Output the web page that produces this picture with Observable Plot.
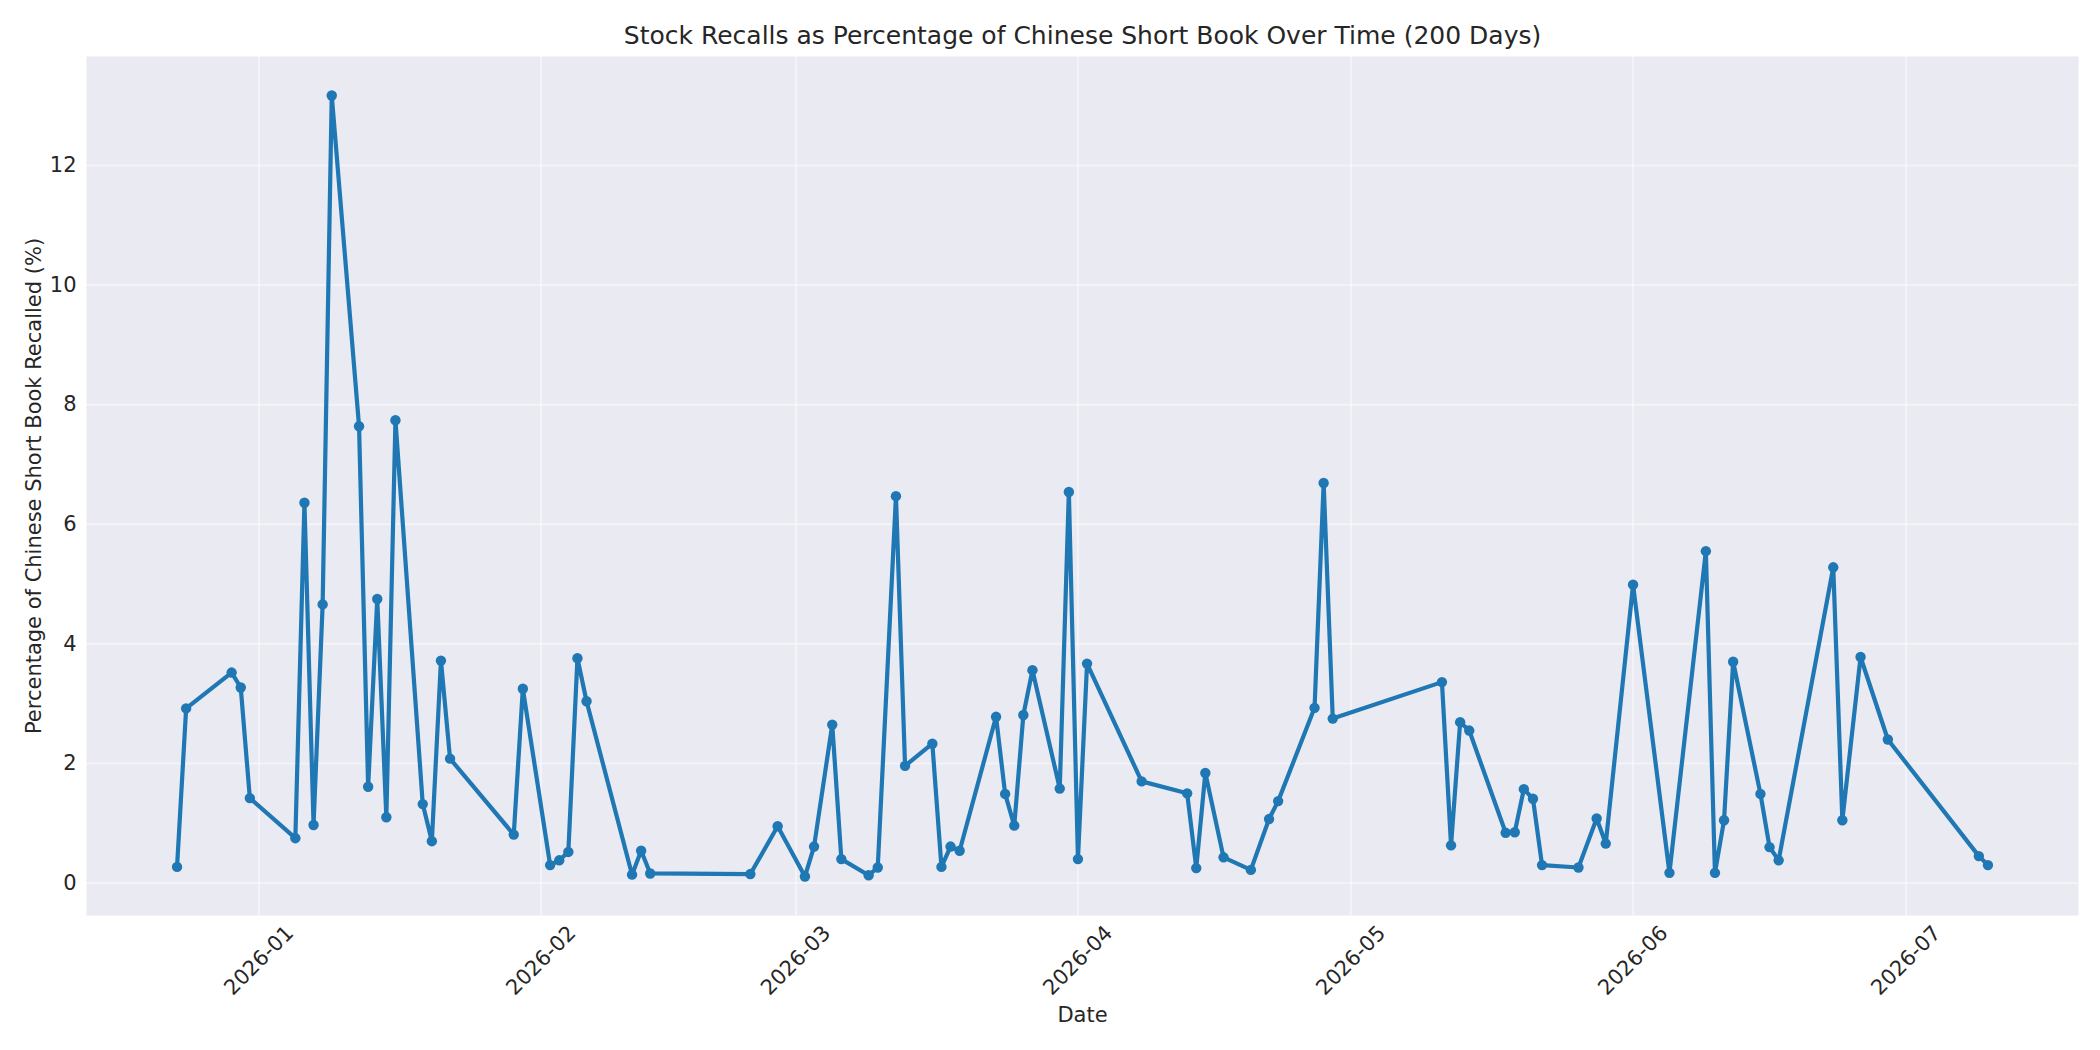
<!DOCTYPE html>
<html>
<head>
<meta charset="utf-8">
<script src="https://cdn.jsdelivr.net/npm/d3@7"></script>
<script src="https://cdn.jsdelivr.net/npm/@observablehq/plot@0.6"></script>
<style>
  html, body { margin: 0; padding: 0; background: #ffffff; }
  #chart svg { display: block; }
</style>
</head>
<body>
<div id="chart"></div>
<script>
const dates = [
  "2025-12-23","2025-12-24","2025-12-29","2025-12-30","2025-12-31",
  "2026-01-05","2026-01-06","2026-01-07","2026-01-08","2026-01-09",
  "2026-01-12","2026-01-13","2026-01-14","2026-01-15","2026-01-16",
  "2026-01-19","2026-01-20","2026-01-21","2026-01-22",
  "2026-01-29","2026-01-30",
  "2026-02-02","2026-02-03","2026-02-04","2026-02-05","2026-02-06",
  "2026-02-11","2026-02-12","2026-02-13",
  "2026-02-24","2026-02-27",
  "2026-03-02","2026-03-03","2026-03-05","2026-03-06",
  "2026-03-09","2026-03-10","2026-03-12","2026-03-13",
  "2026-03-16","2026-03-17","2026-03-18","2026-03-19",
  "2026-03-23","2026-03-24","2026-03-25","2026-03-26","2026-03-27",
  "2026-03-30","2026-03-31","2026-04-01","2026-04-02",
  "2026-04-08",
  "2026-04-13","2026-04-14","2026-04-15","2026-04-17",
  "2026-04-20","2026-04-22","2026-04-23",
  "2026-04-27","2026-04-28","2026-04-29",
  "2026-05-11","2026-05-12","2026-05-13","2026-05-14",
  "2026-05-18","2026-05-19","2026-05-20","2026-05-21","2026-05-22",
  "2026-05-26","2026-05-28","2026-05-29",
  "2026-06-01","2026-06-05",
  "2026-06-09","2026-06-10","2026-06-11","2026-06-12",
  "2026-06-15","2026-06-16","2026-06-17",
  "2026-06-23","2026-06-24","2026-06-26","2026-06-29",
  "2026-07-09","2026-07-10"
];

const recallPct = [
  0.27, 2.92, 3.52, 3.27, 1.42,
  0.75, 6.36, 0.97, 4.66, 13.17,
  7.64, 1.61, 4.75, 1.10, 7.74,
  1.32, 0.70, 3.72, 2.08,
  0.81, 3.25,
  0.30, 0.38, 0.52, 3.76, 3.04,
  0.14, 0.54, 0.16,
  0.15, 0.95,
  0.11, 0.61, 2.65, 0.40,
  0.13, 0.26, 6.47, 1.96,
  2.33, 0.27, 0.61, 0.54,
  2.78, 1.49, 0.96, 2.81, 3.56,
  1.58, 6.54, 0.40, 3.67,
  1.70,
  1.50, 0.25, 1.84, 0.43,
  0.22, 1.07, 1.37,
  2.93, 6.69, 2.75,
  3.36, 0.63, 2.69, 2.55,
  0.84, 0.85, 1.57, 1.41, 0.30,
  0.26, 1.08, 0.66,
  4.99, 0.17,
  5.55, 0.17, 1.05, 3.70,
  1.49, 0.60, 0.38,
  5.28, 1.05, 3.78, 2.40,
  0.45, 0.30
];

const xTickLabels = ["2026-01","2026-02","2026-03","2026-04","2026-05","2026-06","2026-07"];
const yTicks = [0, 2, 4, 6, 8, 10, 12];

const titleText = "Stock Recalls as Percentage of Chinese Short Book Over Time (200 Days)";
const xLabel = "Date";
const yLabel = "Percentage of Chinese Short Book Recalled (%)";

const data = dates.map((d, i) => ({date: new Date(d + "T00:00:00Z"), value: recallPct[i]}));
const xTicks = xTickLabels.map(s => new Date(s + "-01T00:00:00Z"));

// matplotlib-like 5% margins
const [xmin, xmax] = d3.extent(data, d => +d.date);
const xpad = (xmax - xmin) * 0.05;
const [ymin, ymax] = d3.extent(data, d => d.value);
const ypad = (ymax - ymin) * 0.05;

const color = "#1f77b4";
const ink = "#262626";

const chart = Plot.plot({
  width: 2100,
  height: 1050,
  marginLeft: 86,
  marginRight: 22,
  marginTop: 56,
  marginBottom: 135,
  style: {fontFamily: "'DejaVu Sans', sans-serif", fontSize: "21px", color: ink, background: "#ffffff"},
  x: {type: "utc", domain: [new Date(xmin - xpad), new Date(xmax + xpad)], axis: null},
  y: {domain: [ymin - ypad, ymax + ypad], axis: null},
  marks: [
    Plot.frame({fill: "#EAEAF2", stroke: null}),
    Plot.gridX(xTicks, {stroke: "#ffffff", strokeOpacity: 0.45, strokeWidth: 2}),
    Plot.gridY(yTicks, {stroke: "#ffffff", strokeOpacity: 0.45, strokeWidth: 2}),
    Plot.line(data, {x: "date", y: "value", stroke: color, strokeWidth: 4.2, strokeLinejoin: "round", strokeLinecap: "round"}),
    Plot.dot(data, {x: "date", y: "value", r: 5.2, fill: color, stroke: null}),
    // y tick labels
    Plot.text(yTicks, {y: d => d, text: d => String(d), frameAnchor: "left", textAnchor: "end", lineAnchor: "middle", dx: -10, fontSize: 21, fill: ink}),
    // x tick labels (rotated, centered on tick)
    Plot.text(xTicks, {x: d => d, text: (d, i) => xTickLabels[i], frameAnchor: "bottom", textAnchor: "middle", lineAnchor: "middle", rotate: -45, dy: 45, fontSize: 21, fill: ink}),
    // axis labels
    Plot.text([xLabel], {text: d => d, frameAnchor: "bottom", textAnchor: "middle", lineAnchor: "middle", dy: 100, fontSize: 21, fill: ink}),
    Plot.text([yLabel], {text: d => d, frameAnchor: "left", textAnchor: "middle", lineAnchor: "middle", rotate: -90, dx: -52, fontSize: 21, fill: ink}),
    // title
    Plot.text([titleText], {text: d => d, frameAnchor: "top", textAnchor: "middle", lineAnchor: "middle", dy: -21, fontSize: 25, fill: ink})
  ]
});

document.getElementById("chart").appendChild(chart);
</script>
</body>
</html>
